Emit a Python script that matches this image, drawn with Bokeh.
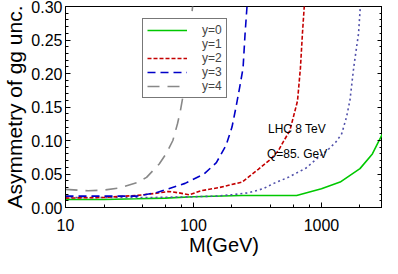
from bokeh.plotting import figure
from bokeh.models import (Range1d, FixedTicker, PrintfTickFormatter, LinearAxis,
                          Legend, LegendItem, CustomJSTickFormatter)
from bokeh.core.properties import value
from bokeh.embed import file_html
from bokeh.resources import INLINE

# ---- data ----
M_y0 = [10, 20, 36, 60, 100, 240, 640, 1000, 1400, 2000, 2500, 3000]
A_y0 = [0.012, 0.012, 0.013, 0.014, 0.016, 0.018, 0.018, 0.028, 0.038, 0.058, 0.080, 0.110]

M_y1 = [10, 20, 50, 100, 150, 200, 270, 350, 424, 550, 760, 950, 1150, 1300, 1440, 1570, 1670, 1790, 1950, 2030]
A_y1 = [0.015, 0.015, 0.015, 0.016, 0.017, 0.019, 0.022, 0.028, 0.036, 0.045, 0.059, 0.075, 0.088, 0.098, 0.110, 0.135, 0.160, 0.210, 0.260, 0.310]

M_y2 = [10, 20, 36, 50, 64, 76, 93, 115, 161, 240, 321, 400, 462, 503, 567, 650, 685, 710, 740]
A_y2 = [0.014, 0.015, 0.018, 0.021, 0.024, 0.022, 0.019, 0.025, 0.030, 0.038, 0.057, 0.072, 0.085, 0.098, 0.115, 0.159, 0.208, 0.259, 0.310]

M_y3 = [10, 20, 36, 51, 64, 86, 121, 151, 180, 200, 215, 230, 244, 253, 262, 268]
A_y3 = [0.017, 0.017, 0.017, 0.022, 0.028, 0.036, 0.050, 0.067, 0.093, 0.120, 0.150, 0.180, 0.208, 0.259, 0.300, 0.320]

M_y4 = [10, 15, 20, 26, 36, 43, 54, 61, 69, 75, 79, 86, 96, 101]
A_y4 = [0.027, 0.025, 0.026, 0.029, 0.037, 0.045, 0.065, 0.080, 0.100, 0.125, 0.144, 0.184, 0.280, 0.320]

series_labels = ["y=0", "y=1", "y=2", "y=3", "y=4"]

x_major_ticks = [10, 100, 1000]
x_minor_ticks = [20, 40, 60, 80, 200, 400, 600, 800, 2000]
y_major_ticks = [0.0, 0.05, 0.10, 0.15, 0.20, 0.25, 0.30]
y_minor_ticks = [i / 100 for i in range(0, 31) if i % 5 != 0]

x_title = "M(GeV)"
y_title = "Asymmetry of gg unc."

note_x = [382, 375]
note_y = [0.117, 0.080]
note_text = ["LHC 8 TeV", "Q=85. GeV"]

FONT = "Liberation Sans"

p = figure(width=382, height=258, x_axis_type="log",
           x_range=Range1d(10, 3000), y_range=Range1d(0, 0.3),
           output_backend="svg", toolbar_location=None,
           min_border_left=58, min_border_right=0, min_border_top=6, min_border_bottom=50,
           x_axis_label=x_title, y_axis_label=y_title)
p.grid.visible = False
p.outline_line_color = "black"
p.outline_line_width = 1
p.background_fill_color = "white"
p.border_fill_color = "white"

xa = p.xaxis[0]
xa.ticker = FixedTicker(ticks=x_major_ticks, minor_ticks=x_minor_ticks)
xa.formatter = PrintfTickFormatter(format="%d")
ya = p.yaxis[0]
ya.ticker = FixedTicker(ticks=y_major_ticks, minor_ticks=y_minor_ticks)
ya.formatter = PrintfTickFormatter(format="%.2f")

for ax in (xa, ya):
    ax.major_tick_in = 5
    ax.major_tick_out = 0
    ax.minor_tick_in = 3
    ax.minor_tick_out = 0
    ax.axis_line_color = "black"
    ax.major_tick_line_color = "black"
    ax.minor_tick_line_color = "black"
    ax.major_label_text_font = FONT
    ax.major_label_text_font_size = "16px"
    ax.major_label_text_color = "black"
    ax.axis_label_text_font = FONT
    ax.axis_label_text_font_style = "normal"
    ax.axis_label_text_color = "black"

xa.axis_label_text_font_size = "20px"
ya.axis_label_text_font_size = "21px"
xa.major_label_standoff = 11
xa.axis_label_standoff = 0
ya.major_label_standoff = 3
ya.axis_label_standoff = 2

ra = LinearAxis(ticker=FixedTicker(ticks=y_major_ticks, minor_ticks=y_minor_ticks),
                formatter=CustomJSTickFormatter(code="return ''"))
ra.major_tick_in = 5
ra.major_tick_out = 0
ra.minor_tick_in = 3
ra.minor_tick_out = 0
ra.major_label_standoff = 0
ra.axis_line_color = "black"
p.add_layout(ra, "right")

r0 = p.line(M_y0, A_y0, line_color="#00c800", line_width=1.6)
r1 = p.line(M_y1, A_y1, line_color="#5050aa", line_width=1.6, line_dash="2 3")
r2 = p.line(M_y2, A_y2, line_color="#c40000", line_width=1.6, line_dash="4 2")
r3 = p.line(M_y3, A_y3, line_color="#0000c8", line_width=1.6, line_dash="8 5")
r4 = p.line(M_y4, A_y4, line_color="#888888", line_width=1.6, line_dash="12 8")

# legend swatch for y=1 is black dotted in the reference
r1_leg = p.line(x=[], y=[], line_color="black", line_width=1.6, line_dash="2 3")

legend = Legend(items=[
    LegendItem(label=series_labels[0], renderers=[r0]),
    LegendItem(label=series_labels[1], renderers=[r1_leg]),
    LegendItem(label=series_labels[2], renderers=[r2]),
    LegendItem(label=series_labels[3], renderers=[r3]),
    LegendItem(label=series_labels[4], renderers=[r4]),
], location=(77, 109))
legend.label_text_font = FONT
legend.label_text_font_size = "12px"
legend.label_height = 12
legend.glyph_height = 12
legend.glyph_width = 40
legend.label_standoff = 15
legend.spacing = 0
legend.padding = 4
legend.margin = 0
legend.border_line_color = "#777777"
legend.border_line_width = 1
legend.border_line_alpha = 1
legend.background_fill_color = "white"
legend.background_fill_alpha = 1
p.add_layout(legend)

p.text(x=note_x, y=note_y, text=note_text, text_font=value(FONT),
       text_font_size="12px", text_baseline="middle", text_align="left", text_color="black")

open("out.html", "w").write(file_html(p, INLINE))
